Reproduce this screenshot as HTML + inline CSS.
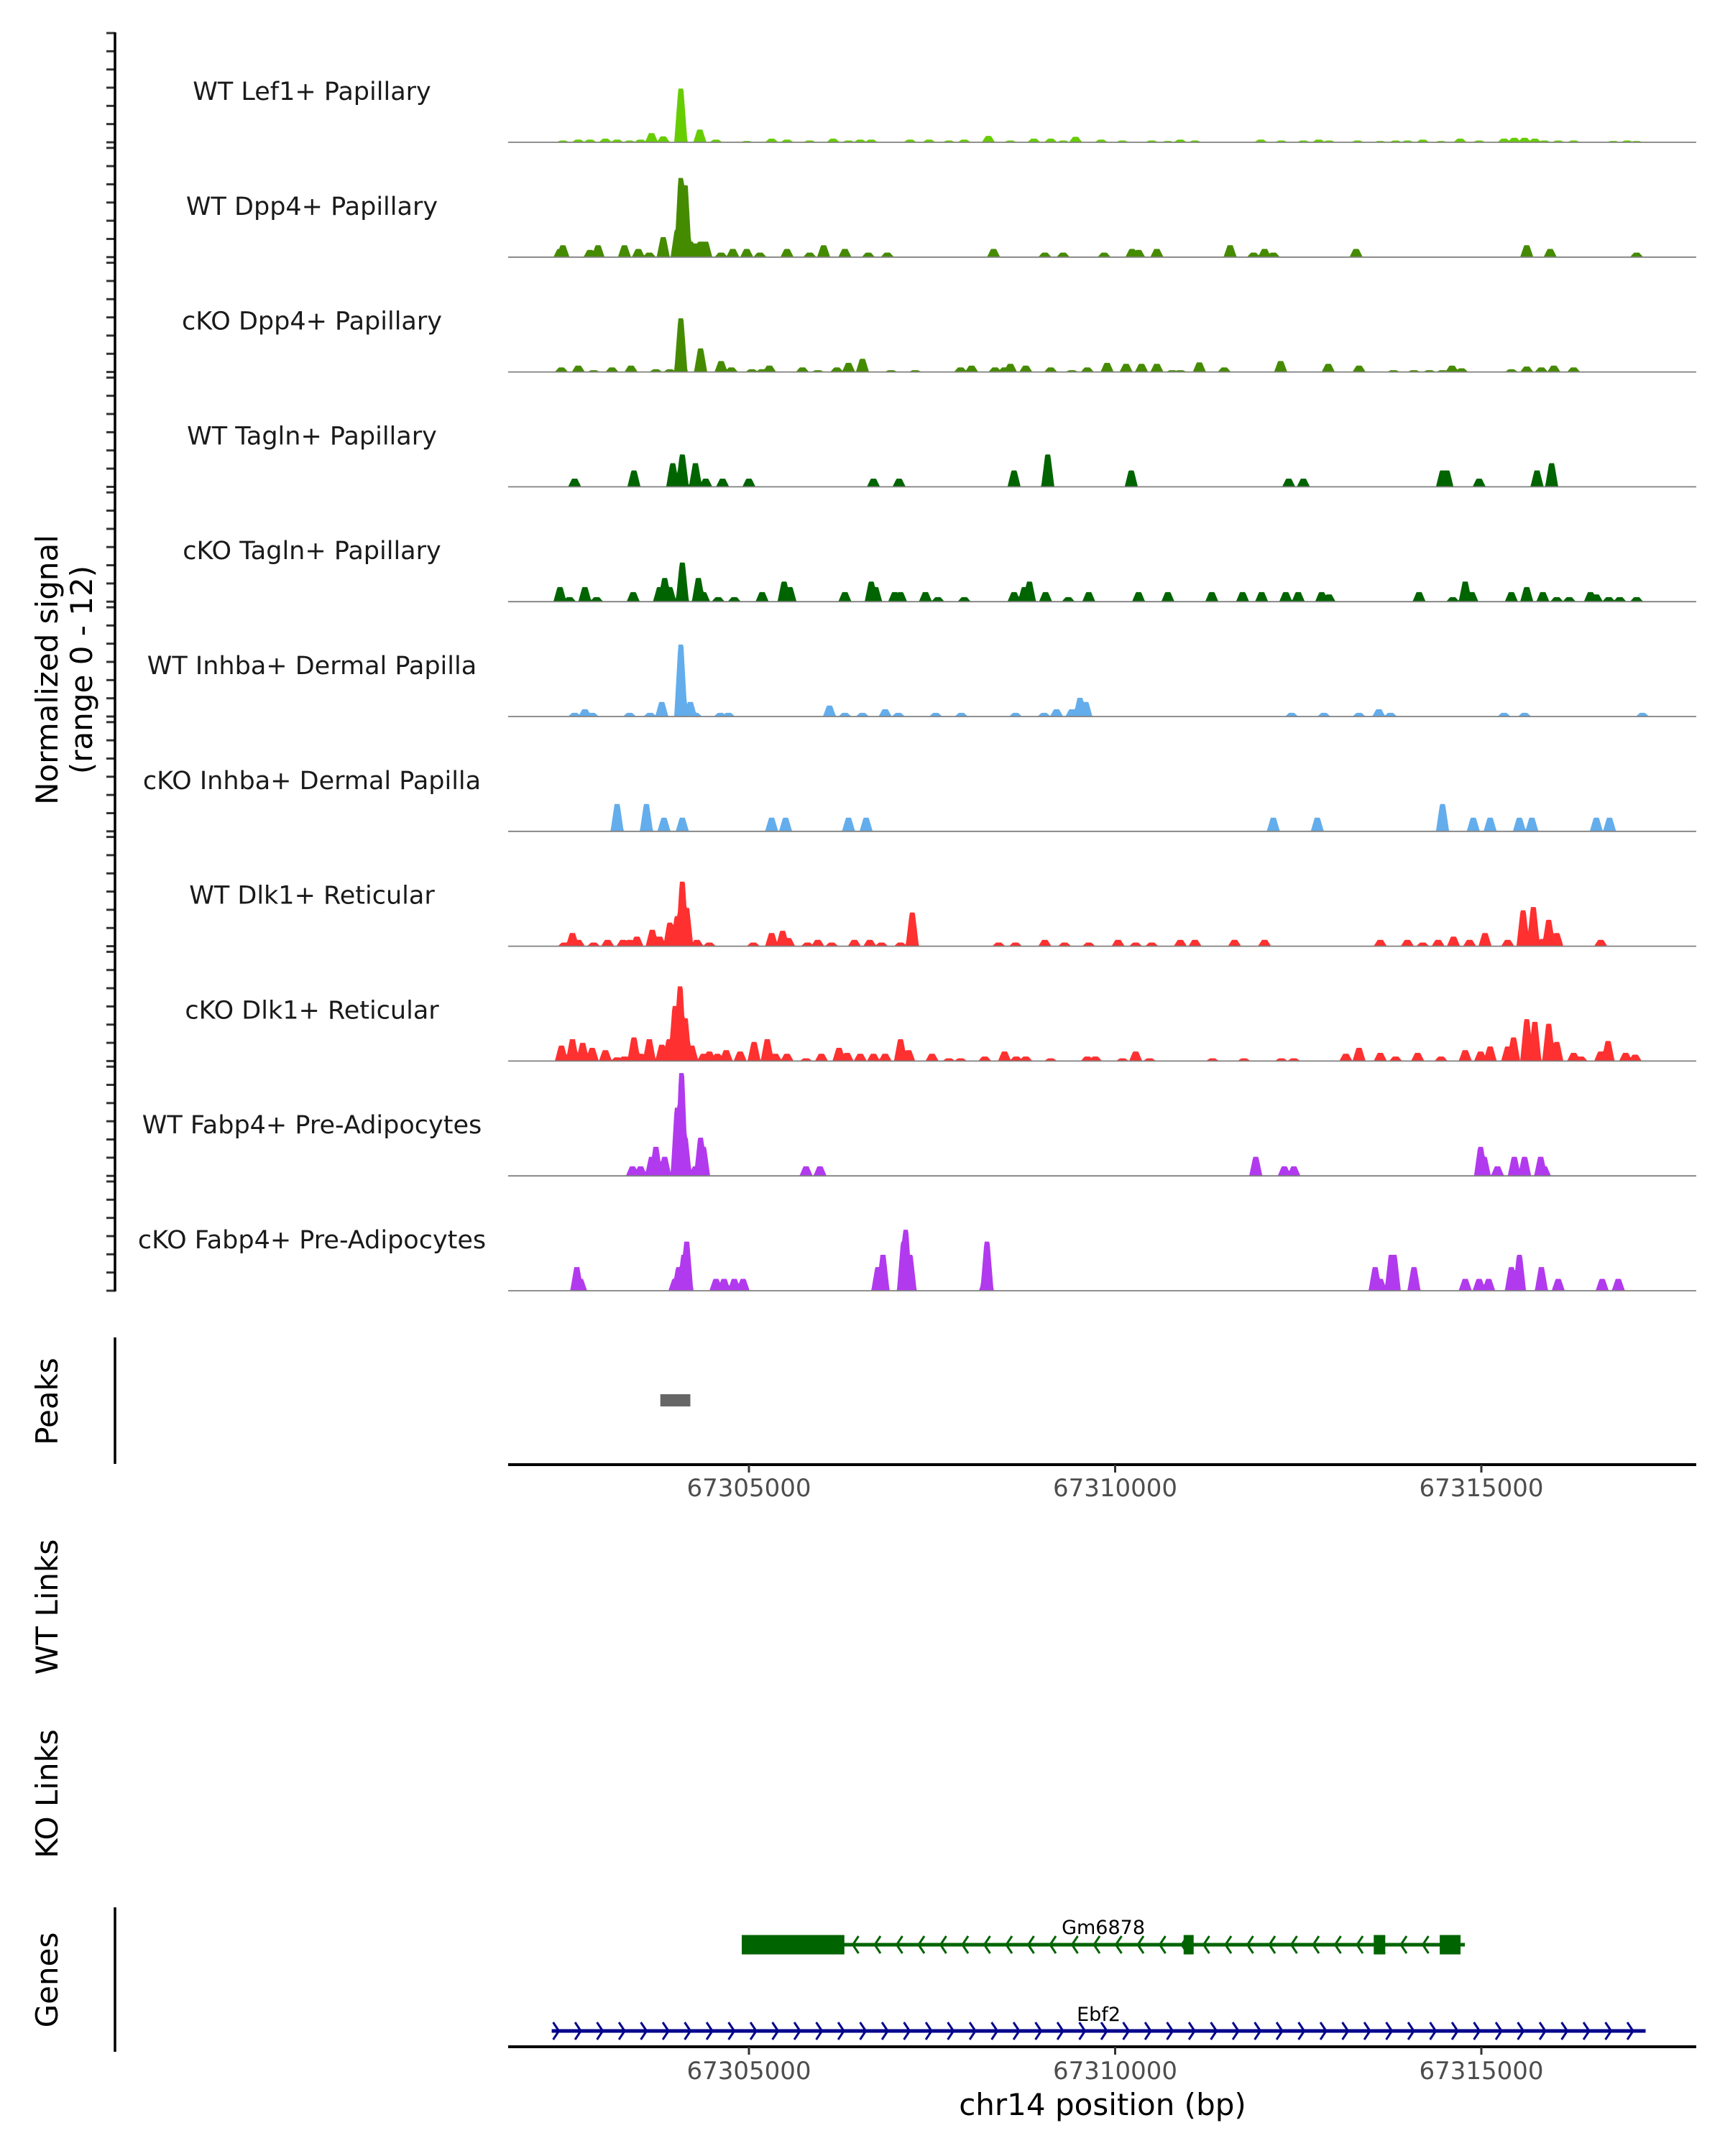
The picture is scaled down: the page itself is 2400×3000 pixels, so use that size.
<!DOCTYPE html>
<html><head><meta charset="utf-8"><title>Coverage plot chr14</title>
<style>html,body{margin:0;padding:0;background:#fff}svg{display:block}text{font-family:"DejaVu Sans","Liberation Sans",sans-serif}</style>
</head><body>
<svg id="chart" xmlns="http://www.w3.org/2000/svg" width="2400" height="3000" viewBox="0 0 2400 3000">
<rect width="2400" height="3000" fill="#fff"/>
<g id="tracks"></g>
<g id="yaxis"></g>
<text transform="translate(80,932) rotate(-90)" text-anchor="middle" font-size="42" fill="#000">Normalized signal</text>
<text transform="translate(128,932) rotate(-90)" text-anchor="middle" font-size="42" fill="#000">(range 0 - 12)</text>
<g id="peaks"></g>
<text transform="translate(80,1950) rotate(-90)" text-anchor="middle" font-size="42" fill="#000">Peaks</text>
<text transform="translate(80,2236) rotate(-90)" text-anchor="middle" font-size="42" fill="#000">WT Links</text>
<text transform="translate(80,2496) rotate(-90)" text-anchor="middle" font-size="42" fill="#000">KO Links</text>
<text transform="translate(80,2755) rotate(-90)" text-anchor="middle" font-size="42" fill="#000">Genes</text>
<g id="xaxes"></g>
<g id="genes"></g>
<text x="1534" y="2943" text-anchor="middle" font-size="42" fill="#000">chr14 position (bp)</text>
</svg>
<script>
// positions are kb from region start (67301620 bp); values are normalized signal (0-12)
const regionStartBp = 67301620;
const trackNames = ["WT Lef1+ Papillary","WT Dpp4+ Papillary","cKO Dpp4+ Papillary","WT Tagln+ Papillary","cKO Tagln+ Papillary","WT Inhba+ Dermal Papilla","cKO Inhba+ Dermal Papilla","WT Dlk1+ Reticular","cKO Dlk1+ Reticular","WT Fabp4+ Pre-Adipocytes","cKO Fabp4+ Pre-Adipocytes"];
const trackColors = ["#66CD00","#458B00","#458B00","#006400","#006400","#63ADEC","#63ADEC","#FF3030","#FF3030","#B23AEE","#B23AEE"];
const yTicks = [0,2,4,6,8,10,12];
const xTicks = [67305000,67310000,67315000];
const xTickLabels = ["67305000","67310000","67315000"];

const t1 = [[0.84,0.2],[1.05,0.3],[1.21,0.3],[1.42,0.4],[1.58,0.3],[1.75,0.2],[1.90,0.3],[2.05,1.0],[2.21,0.65],[2.45,5.9],[2.71,1.4],[2.93,0.3],[3.35,0.15],[3.69,0.4],[3.90,0.3],[4.21,0.2],[4.53,0.4],[4.74,0.2],[4.90,0.3],[5.05,0.3],[5.58,0.3],[5.84,0.3],[6.11,0.2],[6.32,0.3],[6.65,0.7],[6.95,0.2],[7.27,0.4],[7.50,0.4],[7.67,0.2],[7.84,0.6],[8.19,0.3],[8.48,0.2],[8.88,0.2],[9.10,0.15],[9.27,0.3],[9.47,0.2],[10.37,0.3],[10.65,0.2],[10.95,0.2],[11.16,0.3],[11.30,0.2],[11.69,0.2],[12.00,0.15],[12.21,0.2],[12.37,0.2],[12.58,0.3],[12.83,0.15],[13.09,0.4],[13.35,0.2],[13.69,0.4],[13.83,0.5],[13.97,0.5],[14.11,0.4],[14.24,0.2],[14.43,0.2],[14.64,0.2],[15.18,0.15],[15.37,0.2],[15.50,0.15]];
const t2 = [[0.80,0.9],[0.84,1.3],[1.21,0.8],[1.32,1.3],[1.68,1.3],[1.87,0.9],[2.02,0.5],[2.21,2.2],[2.40,3.0],[2.45,8.7],[2.51,7.9],[2.58,1.7],[2.65,1.5],[2.72,1.7],[2.79,1.7],[3.00,0.5],[3.16,0.9],[3.35,0.9],[3.53,0.5],[3.90,0.9],[4.21,0.5],[4.40,1.3],[4.69,0.9],[5.01,0.5],[5.27,0.5],[6.72,0.9],[7.42,0.5],[7.67,0.5],[8.23,0.5],[8.61,0.9],[8.70,0.8],[8.95,0.9],[9.95,1.3],[10.27,0.5],[10.42,0.9],[10.54,0.5],[11.67,0.9],[14.00,1.3],[14.32,0.9],[15.50,0.5]];
const t3 = [[0.82,0.5],[1.05,0.7],[1.26,0.2],[1.51,0.5],[1.77,0.7],[2.11,0.3],[2.30,0.3],[2.45,5.9],[2.72,2.6],[3.00,1.2],[3.14,0.5],[3.42,0.3],[3.56,0.3],[3.66,0.7],[4.11,0.5],[4.32,0.2],[4.58,0.5],[4.74,1.0],[4.93,1.45],[5.32,0.2],[5.65,0.2],[6.27,0.5],[6.42,0.7],[6.74,0.5],[6.87,0.5],[6.95,0.9],[7.16,0.7],[7.50,0.5],[7.79,0.2],[8.00,0.5],[8.27,1.0],[8.53,0.9],[8.74,0.9],[8.95,0.9],[9.16,0.2],[9.27,0.2],[9.53,1.05],[9.87,0.5],[10.64,1.2],[11.29,0.9],[11.71,0.7],[12.18,0.2],[12.46,0.2],[12.67,0.2],[12.85,0.2],[12.98,0.7],[13.11,0.4],[13.79,0.3],[14.00,0.6],[14.20,0.5],[14.37,0.7],[14.64,0.5]];
const t4 = [[1.00,0.9],[1.81,1.8],[2.34,2.6],[2.47,3.55],[2.65,2.6],[2.79,0.9],[3.02,0.9],[3.38,0.9],[5.08,0.9],[5.43,0.9],[7.00,1.8],[7.46,3.55],[8.60,1.8],[10.75,0.9],[10.95,0.9],[12.85,1.8],[12.91,1.8],[13.35,0.9],[14.14,1.8],[14.34,2.6]];
const t5 = [[0.80,1.6],[0.93,0.5],[1.14,1.6],[1.30,0.5],[1.80,1.05],[2.16,1.6],[2.23,2.6],[2.30,1.6],[2.47,4.3],[2.69,2.6],[2.76,1.05],[2.96,0.5],[3.18,0.5],[3.56,1.05],[3.86,2.2],[3.94,1.6],[4.69,1.05],[5.05,2.2],[5.11,1.6],[5.37,1.05],[5.45,1.05],[5.79,1.05],[5.96,0.5],[6.32,0.5],[7.00,1.05],[7.14,1.6],[7.21,2.2],[7.43,1.05],[7.74,0.5],[8.02,1.05],[8.70,1.05],[9.10,1.05],[9.70,1.05],[10.12,1.05],[10.38,1.05],[10.71,1.05],[10.88,1.05],[11.20,1.05],[11.30,0.8],[12.53,1.05],[12.99,0.5],[13.16,2.2],[13.25,1.05],[13.79,1.05],[14.00,1.6],[14.22,1.05],[14.41,0.5],[14.58,0.5],[14.87,1.05],[14.95,0.8],[15.12,0.5],[15.27,0.5],[15.50,0.5]];
const t6 = [[1.00,0.4],[1.14,0.8],[1.24,0.4],[1.75,0.4],[2.03,0.4],[2.19,1.6],[2.45,7.9],[2.58,1.6],[2.65,0.4],[2.99,0.4],[3.10,0.4],[4.48,1.2],[4.69,0.4],[4.93,0.4],[5.24,0.8],[5.42,0.4],[5.93,0.4],[6.28,0.4],[7.02,0.4],[7.41,0.4],[7.58,0.8],[7.79,0.8],[7.90,2.05],[7.98,1.6],[10.79,0.4],[11.23,0.4],[11.71,0.4],[11.98,0.8],[12.14,0.4],[13.69,0.4],[13.97,0.4],[15.58,0.4]];
const t7 = [[1.58,3.0],[1.98,3.0],[2.22,1.5],[2.47,1.5],[3.69,1.5],[3.88,1.5],[4.74,1.5],[4.98,1.5],[10.54,1.5],[11.14,1.5],[12.85,3.0],[13.27,1.5],[13.50,1.5],[13.90,1.5],[14.07,1.5],[14.95,1.5],[15.13,1.5]];
const t8 = [[0.86,0.4],[0.97,1.45],[1.05,0.7],[1.26,0.4],[1.45,0.7],[1.66,0.7],[1.75,0.7],[1.85,1.05],[2.06,1.8],[2.16,1.05],[2.30,2.6],[2.40,3.3],[2.47,7.1],[2.53,4.2],[2.67,0.7],[2.84,0.4],[3.44,0.4],[3.69,1.45],[3.84,1.7],[3.92,0.9],[4.18,0.4],[4.32,0.7],[4.51,0.4],[4.82,0.7],[5.03,0.7],[5.19,0.4],[5.45,0.4],[5.61,3.7],[6.79,0.4],[7.02,0.4],[7.42,0.7],[7.69,0.4],[8.02,0.4],[8.42,0.7],[8.66,0.4],[8.88,0.4],[9.27,0.7],[9.47,0.7],[10.01,0.7],[10.42,0.7],[12.00,0.7],[12.37,0.7],[12.58,0.4],[12.79,0.7],[13.00,1.05],[13.22,0.7],[13.43,1.45],[13.74,0.7],[13.95,3.95],[14.09,4.3],[14.22,0.8],[14.30,2.9],[14.41,1.45],[15.01,0.7]];
const t9 = [[0.82,1.7],[0.97,2.4],[1.11,2.0],[1.24,1.45],[1.42,1.2],[1.58,0.4],[1.68,0.5],[1.81,2.6],[1.90,0.8],[2.02,2.4],[2.19,1.8],[2.29,2.4],[2.37,6.05],[2.44,8.2],[2.51,4.7],[2.60,1.7],[2.76,0.8],[2.84,1.05],[2.95,0.8],[3.07,1.2],[3.26,1.05],[3.45,2.1],[3.63,2.4],[3.74,0.8],[3.90,0.8],[4.16,0.3],[4.37,0.8],[4.61,1.45],[4.72,0.9],[4.90,0.8],[5.08,0.8],[5.24,0.8],[5.45,2.4],[5.56,1.2],[5.88,0.8],[6.11,0.3],[6.27,0.3],[6.60,0.5],[6.87,1.05],[7.03,0.5],[7.16,0.5],[7.50,0.3],[8.00,0.5],[8.11,0.5],[8.48,0.3],[8.66,1.05],[8.85,0.3],[9.71,0.3],[10.14,0.3],[10.65,0.3],[10.82,0.3],[11.53,0.8],[11.71,1.45],[12.00,0.9],[12.21,0.5],[12.51,0.9],[12.83,0.5],[13.16,1.2],[13.37,1.05],[13.50,1.6],[13.74,1.6],[13.82,2.6],[14.00,4.6],[14.11,4.3],[14.30,4.1],[14.41,2.1],[14.64,0.9],[14.74,0.5],[15.01,1.05],[15.11,2.2],[15.35,0.9],[15.48,0.7]];
const t10 = [[1.79,1.05],[1.90,1.05],[2.05,2.1],[2.11,3.2],[2.23,2.1],[2.40,7.5],[2.46,11.3],[2.51,4.2],[2.65,1.05],[2.72,4.2],[2.76,3.2],[4.16,1.05],[4.35,1.05],[10.30,2.1],[10.69,1.05],[10.82,1.05],[13.37,3.2],[13.42,2.1],[13.60,1.05],[13.83,2.1],[13.97,2.1],[14.19,2.1],[14.24,1.05]];
const t11 = [[1.03,2.6],[1.08,1.3],[2.37,1.3],[2.42,2.6],[2.49,3.95],[2.53,5.4],[2.93,1.3],[3.04,1.3],[3.18,1.3],[3.30,1.3],[5.14,2.6],[5.21,3.95],[5.49,5.4],[5.52,6.7],[5.58,3.95],[6.61,1.3],[6.63,5.4],[11.93,2.6],[12.00,1.3],[12.15,3.95],[12.19,3.95],[12.46,2.6],[13.16,1.3],[13.35,1.3],[13.48,1.3],[13.79,2.6],[13.90,3.95],[14.20,2.6],[14.43,1.3],[15.03,1.3],[15.25,1.3]];
const trackData = [t1,t2,t3,t4,t5,t6,t7,t8,t9,t10,t11];

const peakRegions = [[67303790,67304200]];
const geneNames = ["Gm6878","Ebf2"];
const geneStrands = ["-","+"];
const geneSpans = [[67304902,67314775],[67302307,67317243]];
const geneExons = [[[67304902,67306303],[67310935,67311072],[67313531,67313688],[67314432,67314716]],[]];

const NS="http://www.w3.org/2000/svg";
const X0=707, X1=2360, PXBP=0.1019, REFBP=67305000, REFX=1042;
const BP0=REFBP-(REFX-X0)/PXBP;
function xs(bp){return REFX+(bp-REFBP)*PXBP;}
function bl(k){return 198+159.8*k;}
const UNIT=152/12;
function ys(k,v){return bl(k)-v*UNIT;}
function mk(tag,attrs,parent){const e=document.createElementNS(NS,tag);for(const a in attrs)e.setAttribute(a,attrs[a]);parent.appendChild(e);return e;}

const gT=document.getElementById('tracks'), gY=document.getElementById('yaxis');
const HW=90, TOP=35;
trackData.forEach((pk,k)=>{
  const g=mk('g',{},gT);
  
  
  let d='M'+X0+','+bl(k);
  for(let px=X0;px<=X1;px++){
    const bp=BP0+(px-X0)/PXBP;
    let v=0;
    for(const p of pk){const c=regionStartBp+p[0]*1000;const dd=Math.abs(bp-c);
      if(dd<HW){const f=dd<=TOP?1:(HW-dd)/(HW-TOP);v=Math.max(v,p[1]*f);}}
    d+=' L'+px+','+ys(k,v).toFixed(1);
  }
  d+=' L'+X1+','+bl(k)+' Z';
  const a=mk('path',{d:d,fill:trackColors[k]},g);
  
  
  const ln=mk('line',{x1:X0,x2:X1,y1:bl(k),y2:bl(k),stroke:'#808080','stroke-width':1.8},g);
  
  
  const t=mk('text',{x:434,y:bl(k)-59,'text-anchor':'middle','font-size':35,fill:'#1a1a1a'},g);
  t.textContent=trackNames[k];
  
  
  yTicks.forEach(v=>{
    const tk=mk('line',{x1:148,x2:160,y1:ys(k,v),y2:ys(k,v),stroke:'#333','stroke-width':3},gY);
    
    
  });
});
const ax=mk('line',{x1:160,x2:160,y1:ys(0,12)-1,y2:bl(10)+1,stroke:'#000','stroke-width':3.5},gY);



const gP=document.getElementById('peaks');
const pa=mk('line',{x1:160,x2:160,y1:1861,y2:2037,stroke:'#000','stroke-width':3.5},gP);


peakRegions.forEach(r=>{
  const re=mk('rect',{x:xs(r[0]),y:1940,width:xs(r[1])-xs(r[0]),height:17,fill:'#666'},gP);
  
  
});

const gX=document.getElementById('xaxes');
[[2038,2082],[2848,2893]].forEach((yy,i)=>{
  const l=mk('line',{x1:X0,x2:X1,y1:yy[0],y2:yy[0],stroke:'#000','stroke-width':4},gX);
  
  
  xTicks.forEach((bp,j)=>{
    const tk=mk('line',{x1:xs(bp),x2:xs(bp),y1:yy[0],y2:yy[0]+11,stroke:'#333','stroke-width':3},gX);
    
    
    const tl=mk('text',{x:xs(bp),y:yy[1],'text-anchor':'middle','font-size':34,fill:'#4d4d4d'},gX);
    tl.textContent=xTickLabels[j];
    
    
  });
});

const gG=document.getElementById('genes');
const ga=mk('line',{x1:160,x2:160,y1:2654,y2:2855,stroke:'#000','stroke-width':3.5},gG);


const geneY=[2706,2826], geneCol=["#006400","#00008B"], labY=[2691,2812];
geneNames.forEach((nm,i)=>{
  const g=mk('g',{},gG);
  
  
  const s=xs(geneSpans[i][0]), e=xs(geneSpans[i][1]), y=geneY[i], c=geneCol[i];
  mk('line',{x1:s,x2:e,y1:y,y2:y,stroke:c,'stroke-width':5},g);
  let arr='';
  const dir=geneStrands[i]==='+'?1:-1;
  for(let x=s+6;x<=e;x+=30.5){arr+='M'+(x-4*dir)+','+(y-12)+' L'+(x+4*dir)+','+y+' L'+(x-4*dir)+','+(y+12)+' ';}
  mk('path',{d:arr,fill:'none',stroke:c,'stroke-width':3},g);
  geneExons[i].forEach(ex=>{
    const r=mk('rect',{x:xs(ex[0]),y:y-13.5,width:Math.max(xs(ex[1])-xs(ex[0]),10),height:27,fill:c},g);
    
    
  });
  const t=mk('text',{x:(s+e)/2,y:labY[i],'text-anchor':'middle','font-size':27,fill:'#000'},g);
  t.textContent=nm;
  
  
});
</script>
</body></html>
